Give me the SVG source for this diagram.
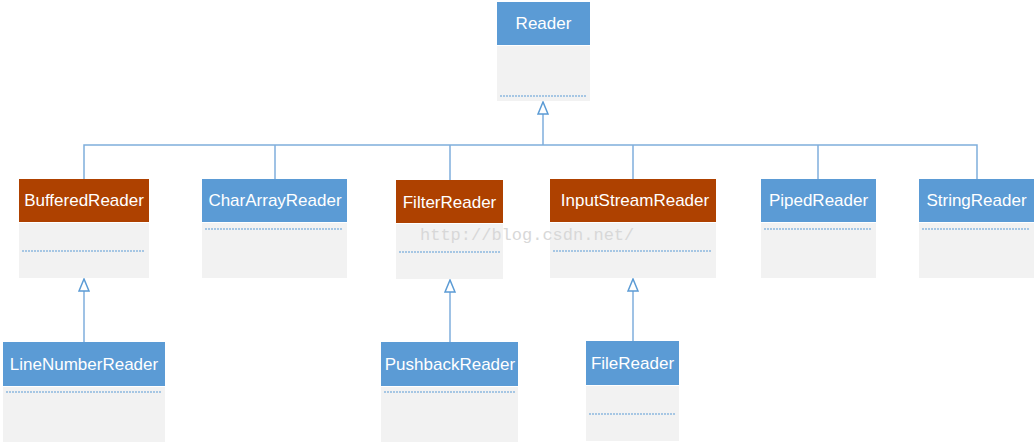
<svg xmlns="http://www.w3.org/2000/svg" width="1036" height="444" viewBox="0 0 1036 444">
<defs>
<style>
.hb{fill:#5B9BD5}
.ho{fill:#AE4100}
.bd{fill:#F2F2F2}
.t{font-family:"Liberation Sans",Arial,sans-serif;font-size:17px;fill:#FFFFFF;text-anchor:middle}
.dl{stroke:#5B9BD5;stroke-width:1;stroke-dasharray:2 1;fill:none}
.cn{stroke:#7FAEDC;stroke-width:1.5;fill:none}
.wm{font-family:"Liberation Mono","DejaVu Sans Mono",monospace;font-size:17px;fill:#D8D8D8}
</style>
<marker id="tri" viewBox="0 0 14 12" refX="13" refY="6" markerWidth="14" markerHeight="12" markerUnits="userSpaceOnUse" orient="auto">
<path d="M13,6 L1,1 L1,11 Z" fill="#FFFFFF" stroke="#5B9BD5" stroke-width="1.5"/>
</marker>
</defs>
<rect width="1036" height="444" fill="#FFFFFF"/>
<g id="connectors">
<path class="cn" d="M543,145 V102" marker-end="url(#tri)"/>
<path class="cn" d="M84,179 V145 H977 V179"/>
<path class="cn" d="M275,145 V179"/>
<path class="cn" d="M450,145 V180"/>
<path class="cn" d="M633,145 V179"/>
<path class="cn" d="M818,145 V179"/>
<path class="cn" d="M84,342 V279" marker-end="url(#tri)"/>
<path class="cn" d="M450,342 V280" marker-end="url(#tri)"/>
<path class="cn" d="M633,341 V279" marker-end="url(#tri)"/>
</g>
<g id="Reader">
<rect class="hb" x="497" y="2" width="93" height="43"/>
<rect class="bd" x="497" y="46" width="93" height="55"/>
<line class="dl" x1="500" y1="96" x2="587" y2="96"/>
<text class="t" x="543.5" y="29">Reader</text>
</g>
<g id="BufferedReader">
<rect class="ho" x="19" y="179" width="130" height="43"/>
<rect class="bd" x="19" y="223" width="130" height="55"/>
<line class="dl" x1="22" y1="251" x2="145" y2="251"/>
<text class="t" x="84" y="206">BufferedReader</text>
</g>
<g id="CharArrayReader">
<rect class="hb" x="202" y="179" width="145" height="43"/>
<rect class="bd" x="202" y="223" width="145" height="55"/>
<line class="dl" x1="205" y1="229" x2="343" y2="229"/>
<text class="t" x="275" y="206">CharArrayReader</text>
</g>
<g id="FilterReader">
<rect class="ho" x="396" y="180" width="107" height="43"/>
<rect class="bd" x="396" y="224" width="107" height="55"/>
<line class="dl" x1="399" y1="252" x2="500" y2="252"/>
<text class="t" x="449.5" y="208">FilterReader</text>
</g>
<g id="InputStreamReader">
<rect class="ho" x="550" y="179" width="166" height="43"/>
<rect class="bd" x="550" y="223" width="166" height="55"/>
<line class="dl" x1="553" y1="251" x2="712" y2="251"/>
<text class="t" x="635" y="206">InputStreamReader</text>
</g>
<g id="PipedReader">
<rect class="hb" x="761" y="179" width="115" height="43"/>
<rect class="bd" x="761" y="223" width="115" height="55"/>
<line class="dl" x1="764" y1="229" x2="872" y2="229"/>
<text class="t" x="818.5" y="206">PipedReader</text>
</g>
<g id="StringReader">
<rect class="hb" x="919" y="179" width="115" height="43"/>
<rect class="bd" x="919" y="223" width="115" height="55"/>
<line class="dl" x1="922" y1="229" x2="1030" y2="229"/>
<text class="t" x="976.5" y="206">StringReader</text>
</g>
<g id="LineNumberReader">
<rect class="hb" x="3" y="342" width="162" height="44"/>
<rect class="bd" x="3" y="387" width="162" height="55"/>
<line class="dl" x1="6" y1="392" x2="161" y2="392"/>
<text class="t" x="84" y="370">LineNumberReader</text>
</g>
<g id="PushbackReader">
<rect class="hb" x="381" y="342" width="137" height="44"/>
<rect class="bd" x="381" y="387" width="137" height="55"/>
<line class="dl" x1="384" y1="392" x2="515" y2="392"/>
<text class="t" x="450" y="370">PushbackReader</text>
</g>
<g id="FileReader">
<rect class="hb" x="586" y="341" width="93" height="44"/>
<rect class="bd" x="586" y="386" width="93" height="55"/>
<line class="dl" x1="589" y1="414" x2="676" y2="414"/>
<text class="t" x="632.5" y="369">FileReader</text>
</g>
<text class="wm" x="420" y="240">http://blog.csdn.net/</text>
</svg>
